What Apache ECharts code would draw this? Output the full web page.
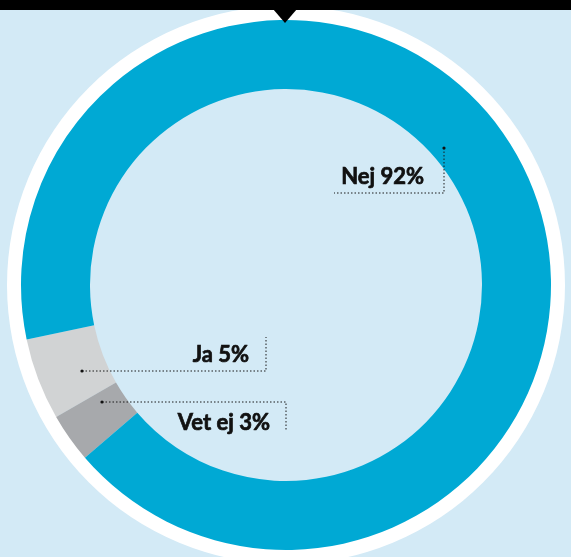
<!DOCTYPE html>
<html><head><meta charset="utf-8">
<script src="https://cdn.jsdelivr.net/npm/echarts@6/dist/echarts.min.js"></script>
<style>html,body{margin:0;padding:0;background:#d3eaf6}#c{width:571px;height:557px}</style>
</head><body><div id="c"></div>
<script>
// Data
const categories = ['Ja', 'Vet ej', 'Nej'];
const values = [5, 3, 92];
const percentLabels = ['5%', '3%', '92%'];
const colors = ['#d1d3d4', '#a7a9ac', '#00a9d4'];

// Annotation layout (label anchor + leader line), by category index
const annot = [
  { x: 249, y: 355, line: [[82, 371], [266, 371], [266, 337]] },
  { x: 270, y: 423, line: [[102, 402], [286, 402], [286, 430]] },
  { x: 424, y: 177, line: [[444, 148], [444, 193], [334, 193]] }
];

const chart = echarts.init(document.getElementById('c'), null, { renderer: 'canvas' });
const center = [286, 285];

const pieData = categories.map((c, i) => ({
  name: c,
  value: values[i],
  itemStyle: { color: colors[i] },
  label: { formatter: c + ' ' + percentLabels[i] }
}));

const leaders = [];
annot.forEach(a => {
  leaders.push({
    type: 'polyline',
    shape: { points: a.line },
    style: { stroke: '#1a1a1a', lineWidth: 1, lineDash: [1.5, 2], fill: null },
    z: 100
  });
  leaders.push({
    type: 'circle',
    shape: { cx: a.line[0][0], cy: a.line[0][1], r: 1.6 },
    style: { fill: '#111' },
    z: 101
  });
});

chart.setOption({
  backgroundColor: '#d3eaf6',
  animation: false,
  series: [
    {
      type: 'pie',
      silent: true,
      center: center,
      radius: [263, 279],
      z: 1,
      label: { show: false },
      labelLine: { show: false },
      itemStyle: { color: '#ffffff' },
      data: [{ value: 1 }]
    },
    {
      type: 'pie',
      center: center,
      radius: [196, 265],
      startAngle: 191.85,
      clockwise: false,
      avoidLabelOverlap: false,
      z: 2,
      data: pieData,
      label: {
        show: true,
        position: 'outside',
        color: '#111',
        fontFamily: 'Lato',
        fontWeight: 'bold',
        fontSize: 22,
        textBorderColor: '#111',
        textBorderWidth: 0.7
      },
      labelLine: { show: false },
      labelLayout: function (p) {
        const a = annot[p.dataIndex];
        return { x: a.x, y: a.y, align: 'right', verticalAlign: 'middle' };
      }
    }
  ],
  graphic: [
    { type: 'rect', shape: { x: 0, y: 0, width: 571, height: 10 }, style: { fill: '#000' }, z: 100 },
    { type: 'polygon', shape: { points: [[273, 9], [297, 9], [285, 23]] }, style: { fill: '#000' }, z: 100 }
  ].concat(leaders)
});
</script></body></html>
